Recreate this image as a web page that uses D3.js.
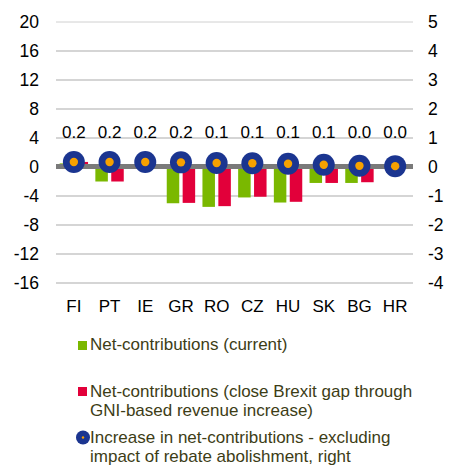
<!DOCTYPE html>
<html>
<head>
<meta charset="utf-8">
<script src="https://cdn.jsdelivr.net/npm/d3@7"></script>
<style>
  body { margin: 0; background: #fff; }
  text { font-family: "Liberation Sans", Arial, sans-serif; }
</style>
</head>
<body>
<svg id="chart" width="457" height="467"></svg>
<script>
// values
var countries = ["FI", "PT", "IE", "GR", "RO", "CZ", "HU", "SK", "BG", "HR"];
var netCurrent = [0.5, -2.0, 0, -5.0, -5.5, -4.2, -4.9, -2.2, -2.2, 0];
var netBrexit = [0.7, -2.0, 0, -4.95, -5.4, -4.1, -4.8, -2.2, -2.1, 0];
var increase = [0.17, 0.17, 0.17, 0.16, 0.14, 0.13, 0.11, 0.08, 0.04, 0.03];
var leftTicks = [20, 16, 12, 8, 4, 0, -4, -8, -12, -16];
var rightTicks = [5, 4, 3, 2, 1, 0, -1, -2, -3, -4];

var svg = d3.select("#chart");

var x = d3.scaleBand().domain(countries).range([56, 413]);
var yL = d3.scaleLinear().domain([-16, 20]).range([283, 22]);
var yR = d3.scaleLinear().domain([-4, 5]).range([283, 22]);

// gridlines
svg.append("g").selectAll("line")
  .data(leftTicks)
  .enter().append("line")
  .attr("x1", 56).attr("x2", 413)
  .attr("y1", function(d) { return yL(d); })
  .attr("y2", function(d) { return yL(d); })
  .attr("stroke", function(d) { return d == 20 ? "#d0d0d0" : "#ababab"; })
  .attr("stroke-width", 1);

// left axis
var axL = d3.axisLeft(yL).tickValues(leftTicks).tickSize(0).tickPadding(0)
  .tickFormat(function(d) { return String(d); });
svg.append("g")
  .attr("transform", "translate(39,0)")
  .call(axL)
  .call(function(g) { g.select(".domain").remove(); })
  .selectAll("text")
  .attr("font-size", 17.5).attr("fill", "#000")
  .attr("font-family", "Liberation Sans, Arial, sans-serif");

// right axis
var axR = d3.axisRight(yR).tickValues(rightTicks).tickSize(0).tickPadding(0)
  .tickFormat(function(d) { return String(d); });
svg.append("g")
  .attr("transform", "translate(428,0)")
  .call(axR)
  .call(function(g) { g.select(".domain").remove(); })
  .selectAll("text")
  .attr("font-size", 17.5).attr("fill", "#000")
  .attr("font-family", "Liberation Sans, Arial, sans-serif");

// bars
var barW = 12.5;
function barRect(sel, vals, offset, color) {
  sel.selectAll("rect")
    .data(vals)
    .enter().append("rect")
    .attr("x", function(d, i) { return x(countries[i]) + x.bandwidth() / 2 + offset; })
    .attr("width", barW)
    .attr("y", function(d) { return yL(Math.max(0, d)); })
    .attr("height", function(d) { return Math.abs(yL(d) - yL(0)); })
    .attr("fill", color);
}
barRect(svg.append("g"), netCurrent, -14.2, "#7ab800");
barRect(svg.append("g"), netBrexit, 1.7, "#e2003a");

// zero line
svg.append("line")
  .attr("x1", 56).attr("x2", 413)
  .attr("y1", yL(0) - 0.5).attr("y2", yL(0) - 0.5)
  .attr("stroke", "#7a7a7a").attr("stroke-width", 5);

// markers
var pts = svg.append("g").selectAll("g")
  .data(increase)
  .enter().append("g")
  .attr("transform", function(d, i) {
    return "translate(" + (x(countries[i]) + x.bandwidth() / 2) + "," + yR(d) + ")";
  });
pts.append("circle").attr("r", 11).attr("fill", "#1b3590");
pts.append("circle").attr("r", 4.2).attr("fill", "#f7a100");

// value labels
svg.append("g").selectAll("text")
  .data(increase)
  .enter().append("text")
  .attr("x", function(d, i) { return x(countries[i]) + x.bandwidth() / 2; })
  .attr("y", 138)
  .attr("text-anchor", "middle")
  .attr("font-size", 17)
  .attr("fill", "#000")
  .text(function(d) { return d.toFixed(1); });

// category labels
svg.append("g").selectAll("text")
  .data(countries)
  .enter().append("text")
  .attr("x", function(d) { return x(d) + x.bandwidth() / 2; })
  .attr("y", 312)
  .attr("text-anchor", "middle")
  .attr("font-size", 17)
  .attr("fill", "#000")
  .text(function(d) { return d; });

// legend
var legendColor = "#3d3d16";
var legend = svg.append("g");

legend.append("rect").attr("x", 78).attr("y", 341).attr("width", 9).attr("height", 9).attr("fill", "#7ab800");
legend.append("text").attr("x", 90).attr("y", 350).attr("font-size", 17).attr("fill", legendColor)
  .text("Net-contributions (current)");

legend.append("rect").attr("x", 78).attr("y", 387).attr("width", 9).attr("height", 9).attr("fill", "#e2003a");
var t2 = legend.append("text").attr("x", 90).attr("y", 397).attr("font-size", 17).attr("fill", legendColor);
t2.append("tspan").attr("x", 90).text("Net-contributions (close Brexit gap through");
t2.append("tspan").attr("x", 90).attr("dy", 19.3).text("GNI-based revenue increase)");

legend.append("circle").attr("cx", 83).attr("cy", 437.5).attr("r", 7).attr("fill", "#1b3590");
legend.append("circle").attr("cx", 83).attr("cy", 437.5).attr("r", 1.2).attr("fill", "#f7a100");
var t3 = legend.append("text").attr("x", 90).attr("y", 443).attr("font-size", 17).attr("fill", legendColor);
t3.append("tspan").attr("x", 90).text("Increase in net-contributions - excluding");
t3.append("tspan").attr("x", 90).attr("dy", 19.3).text("impact of rebate abolishment, right");
</script>
</body>
</html>
